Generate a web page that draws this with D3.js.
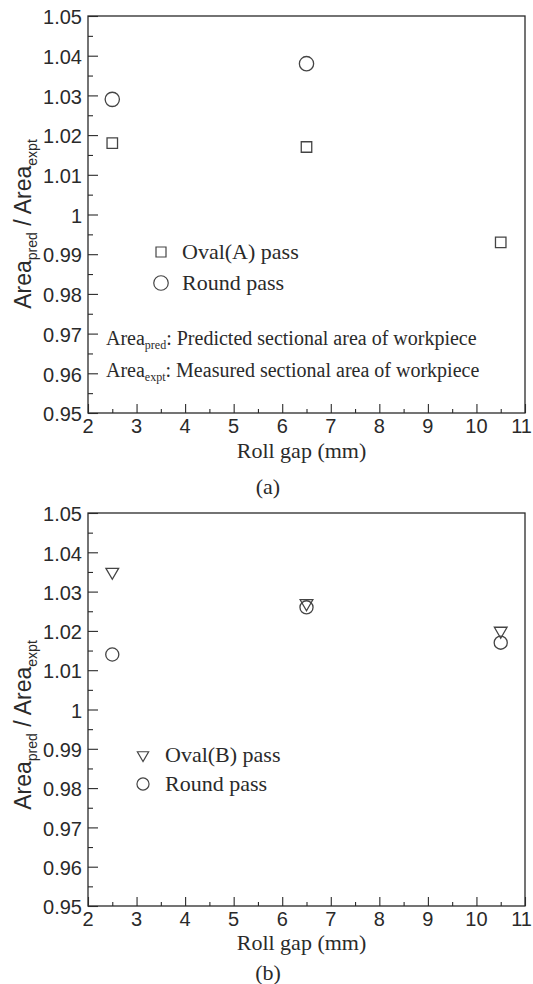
<!DOCTYPE html>
<html>
<head>
<meta charset="utf-8">
<script src="https://cdn.jsdelivr.net/npm/d3@7"></script>
<style>
  html, body { margin: 0; padding: 0; background: #fff; }
  svg { display: block; }
</style>
</head>
<body>
<script>
// ---- data ----
const xTickValues = [2, 3, 4, 5, 6, 7, 8, 9, 10, 11];
const yTickValues = [0.95, 0.96, 0.97, 0.98, 0.99, 1.00, 1.01, 1.02, 1.03, 1.04, 1.05];
const yTickLabels = ["0.95", "0.96", "0.97", "0.98", "0.99", "1", "1.01", "1.02", "1.03", "1.04", "1.05"];

// Panel (a)
const gapsOvalA = [2.5, 6.5, 10.5];
const ratioOvalA = [1.018, 1.017, 0.993];
const gapsRoundA = [2.5, 6.5];
const ratioRoundA = [1.029, 1.038];

// Panel (b)
const gapsOvalB = [2.5, 6.5, 10.5];
const ratioOvalB = [1.035, 1.027, 1.020];
const gapsRoundB = [2.5, 6.5, 10.5];
const ratioRoundB = [1.014, 1.026, 1.017];

const legendA = ["Oval(A) pass", "Round pass"];
const legendB = ["Oval(B) pass", "Round pass"];
const xTitle = "Roll gap (mm)";

// ---- drawing ----
const W = 533, H = 984;
const ink = "#2a2a2a";
const markInk = "#444";
const svg = d3.select("body").append("svg").attr("width", W).attr("height", H);

const serif = "'Liberation Serif', 'Times New Roman', serif";
const sans = "'Liberation Sans', Arial, sans-serif";

function subText(g, x, y, parts, opts) {
  const t = g.append("text").attr("x", x).attr("y", y)
    .attr("font-family", opts.family).attr("font-size", opts.size)
    .attr("fill", ink);
  if (opts.anchor) t.attr("text-anchor", opts.anchor);
  if (opts.transform) t.attr("transform", opts.transform);
  parts.forEach(p => {
    const s = t.append("tspan").text(p.t);
    if (p.sub) {
      s.attr("font-size", opts.subSize).attr("dy", opts.subDy);
    } else if (p.back) {
      s.attr("dy", -opts.subDy);
    }
  });
  return t;
}

function panel(cfg) {
  const g = svg.append("g");
  const x = d3.scaleLinear().domain([2, 11]).range([cfg.left, cfg.right]);
  const y = d3.scaleLinear().domain([0.95, 1.05]).range([cfg.bottom, cfg.top]);

  // frame
  g.append("rect")
    .attr("x", cfg.left).attr("y", cfg.top)
    .attr("width", cfg.right - cfg.left).attr("height", cfg.bottom - cfg.top)
    .attr("fill", "none").attr("stroke", ink).attr("stroke-width", 1.3);

  // x axis (ticks inside)
  const xMinor = d3.range(2.5, 11, 1);
  const xAxis = d3.axisTop(x).tickValues(xTickValues).tickSize(9).tickFormat("");
  const xg = g.append("g").attr("transform", `translate(0,${cfg.bottom})`).call(xAxis);
  const xAxisMinor = d3.axisTop(x).tickValues(xMinor).tickSize(4).tickFormat("");
  const xgm = g.append("g").attr("transform", `translate(0,${cfg.bottom})`).call(xAxisMinor);
  [xg, xgm].forEach(a => {
    a.select(".domain").remove();
    a.selectAll("line").attr("stroke", ink).attr("stroke-width", 1.1);
  });
  const last = xTickValues[xTickValues.length - 1];
  g.append("g").selectAll("text").data(xTickValues).join("text")
    .attr("x", d => d === last ? W - 1 : x(d)).attr("y", cfg.bottom + cfg.xLabelOff)
    .attr("text-anchor", d => d === last ? "end" : "middle")
    .attr("font-family", sans).attr("font-size", 20).attr("fill", ink)
    .text(d => d);

  // y axis (ticks inside)
  const yMinor = d3.range(0.955, 1.05, 0.01);
  const yAxis = d3.axisRight(y).tickValues(yTickValues).tickSize(10).tickFormat("");
  const yg = g.append("g").attr("transform", `translate(${cfg.left},0)`).call(yAxis);
  const yAxisMinor = d3.axisRight(y).tickValues(yMinor).tickSize(5).tickFormat("");
  const ygm = g.append("g").attr("transform", `translate(${cfg.left},0)`).call(yAxisMinor);
  [yg, ygm].forEach(a => {
    a.select(".domain").remove();
    a.selectAll("line").attr("stroke", ink).attr("stroke-width", 1.1);
  });
  g.append("g").selectAll("text").data(yTickValues).join("text")
    .attr("x", cfg.left - 6).attr("y", d => y(d) + 1)
    .attr("dy", "0.36em")
    .attr("text-anchor", "end")
    .attr("font-family", sans).attr("font-size", 20).attr("fill", ink)
    .text((d, i) => yTickLabels[i]);

  // y title
  subText(g, 0, 0, [
    {t: "Area"}, {t: "pred", sub: true}, {t: " / Area", back: true}, {t: "expt", sub: true}
  ], {family: sans, size: 23, subSize: 14, subDy: 6, anchor: "middle",
      transform: `translate(${cfg.yTitleX},${cfg.yTitleY}) rotate(-90)`});

  // x title
  g.append("text")
    .attr("x", (cfg.left + cfg.right) / 2 - 5).attr("y", cfg.xTitleY)
    .attr("text-anchor", "middle")
    .attr("font-family", serif).attr("font-size", 22).attr("fill", ink)
    .text(xTitle);

  // panel letter
  g.append("text")
    .attr("x", 268).attr("y", cfg.letterY)
    .attr("text-anchor", "middle")
    .attr("font-family", serif).attr("font-size", 22).attr("fill", ink)
    .text(cfg.letter);

  // markers
  const drawSeries = (xs, ys, type, size) => {
    const pts = xs.map((d, i) => [d, ys[i]]);
    const sel = g.append("g").selectAll("path").data(pts).join("path")
      .attr("fill", "none").attr("stroke", markInk).attr("stroke-width", 1.3);
    if (type === "circle") {
      sel.attr("d", d3.symbol(d3.symbolCircle, size))
        .attr("transform", d => `translate(${x(d[0])},${y(d[1])})`);
    } else if (type === "square") {
      sel.attr("d", d3.symbol(d3.symbolSquare, size))
        .attr("transform", d => `translate(${x(d[0])},${y(d[1])})`);
    } else if (type === "tridown") {
      sel.attr("d", d3.symbol(d3.symbolTriangle, size))
        .attr("transform", d => `translate(${x(d[0])},${y(d[1])}) rotate(180)`);
    }
  };
  cfg.series.forEach(s => drawSeries(s.xs, s.ys, s.type, s.size));

  // legend
  cfg.legend.forEach((lab, i) => {
    const s = cfg.series[i];
    const cy = cfg.legY + i * cfg.legStep;
    const tr = s.type === "tridown"
      ? `translate(${cfg.legX},${cy}) rotate(180)`
      : `translate(${cfg.legX},${cy})`;
    const sym = s.type === "circle" ? d3.symbolCircle : s.type === "square" ? d3.symbolSquare : d3.symbolTriangle;
    g.append("path").attr("d", d3.symbol(sym, s.legSize)).attr("transform", tr)
      .attr("fill", "none").attr("stroke", markInk).attr("stroke-width", 1.2);
    g.append("text").attr("x", cfg.legTextX).attr("y", cy + 7)
      .attr("font-family", serif).attr("font-size", 22).attr("fill", ink)
      .text(lab);
  });
  return g;
}

const gA = panel({
  left: 88, right: 525, top: 16, bottom: 413,
  xLabelOff: 20, xTitleY: 458, letterY: 494, letter: "(a)",
  yTitleX: 31, yTitleY: 224,
  legend: legendA, legX: 161, legTextX: 182, legY: 252, legStep: 31,
  series: [
    {xs: gapsOvalA, ys: ratioOvalA, type: "square", size: 110, legSize: 100},
    {xs: gapsRoundA, ys: ratioRoundA, type: "circle", size: 160, legSize: 165}
  ]
});

// annotations in panel (a)
const annSize = 20;
subText(gA, 106, 345, [
  {t: "Area"}, {t: "pred", sub: true}, {t: ": Predicted sectional area of workpiece", back: true}
], {family: serif, size: annSize, subSize: 12, subDy: 4});
subText(gA, 106, 377, [
  {t: "Area"}, {t: "expt", sub: true}, {t: ": Measured sectional area of workpiece", back: true}
], {family: serif, size: annSize, subSize: 12, subDy: 4});

panel({
  left: 88, right: 525, top: 513, bottom: 906,
  xLabelOff: 20, xTitleY: 950, letterY: 980, letter: "(b)",
  yTitleX: 31, yTitleY: 725,
  legend: legendB, legX: 143, legTextX: 165, legY: 755, legStep: 29,
  series: [
    {xs: gapsOvalB, ys: ratioOvalB, type: "tridown", size: 70, legSize: 55},
    {xs: gapsRoundB, ys: ratioRoundB, type: "circle", size: 135, legSize: 115}
  ]
});
</script>
</body>
</html>
